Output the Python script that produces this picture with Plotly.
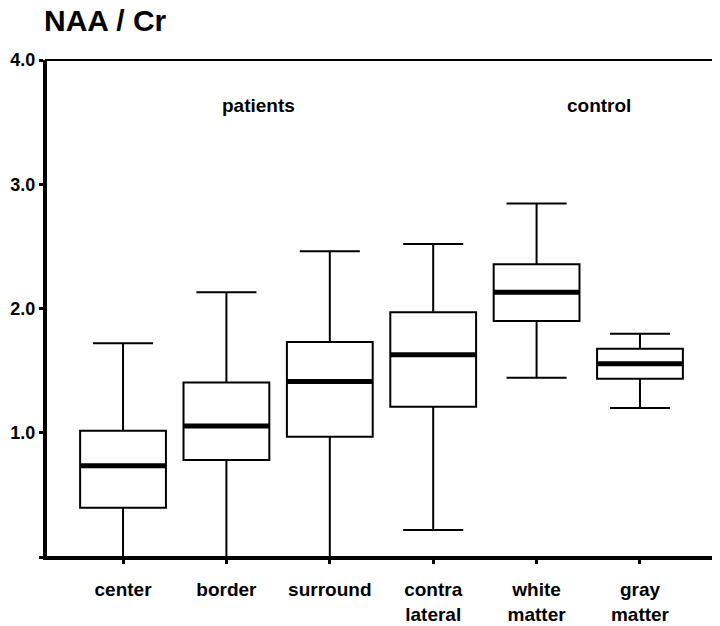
import plotly.graph_objects as go

categories = ["center", "border", "surround", "contra<br>lateral", "white<br>matter", "gray<br>matter"]
lower = [0.0, 0.0, 0.0, 0.217, 1.443, 1.20]
q1 = [0.397, 0.78, 0.968, 1.21, 1.90, 1.435]
median = [0.735, 1.054, 1.413, 1.627, 2.13, 1.555]
q3 = [1.016, 1.405, 1.73, 1.97, 2.357, 1.676]
upper = [1.72, 2.13, 2.46, 2.52, 2.845, 1.797]

y_tickvals = [0, 1, 2, 3, 4]
y_ticktext = ["", "1.0", "2.0", "3.0", "4.0"]

group_labels = ["patients", "control"]
group_x = [1.315, 4.60]
group_y = [3.63, 3.63]

FONT = "Liberation Sans, Arial, sans-serif"
xpos = list(range(len(categories)))

fig = go.Figure()
fig.add_trace(go.Box(
    x=xpos, q1=q1, median=median, q3=q3,
    lowerfence=lower, upperfence=upper,
    width=0.83, whiskerwidth=0.7,
    fillcolor="white", line=dict(color="black", width=2),
    boxpoints=False, showlegend=False, hoverinfo="skip",
))
fig.add_trace(go.Scatter(
    x=xpos, y=median, mode="markers",
    marker=dict(symbol="line-ew", size=61, color="black",
                line=dict(color="black", width=5)),
    showlegend=False, hoverinfo="skip",
))

for lab, gx, gy in zip(group_labels, group_x, group_y):
    fig.add_annotation(x=gx, y=gy, text="<b>%s</b>" % lab, showarrow=False,
                       font=dict(family=FONT, size=19, color="black"))

fig.add_annotation(xref="paper", yref="paper", x=0.0, y=1.0, yshift=21, xshift=-4,
                   xanchor="left", yanchor="bottom", showarrow=False,
                   text="<b>NAA / Cr</b>",
                   font=dict(family=FONT, size=30, color="black"))

fig.add_shape(type="rect", xref="paper", yref="paper", x0=0, x1=1, y0=0, y1=1,
              line=dict(color="black", width=2), layer="above")

fig.update_layout(
    width=712, height=618,
    margin=dict(l=38, r=6, t=52, b=69, autoexpand=False),
    paper_bgcolor="white", plot_bgcolor="white",
    font=dict(family=FONT, size=19, color="black"),
    xaxis=dict(
        range=[-0.745, 5.716], tickmode="array", tickvals=xpos,
        ticktext=["<b>%s</b>" % c for c in categories],
        showgrid=False, zeroline=False, showline=True, linecolor="black", linewidth=3,
        ticks="outside", ticklen=4, tickwidth=3, tickcolor="black",
        ticklabelstandoff=9, automargin=False,
        tickfont=dict(family=FONT, size=19, color="black"),
    ),
    yaxis=dict(
        range=[0, 4], tickmode="array", tickvals=y_tickvals,
        ticktext=["<b>%s</b>" % t if t else "" for t in y_ticktext],
        showgrid=False, zeroline=False, showline=True, linecolor="black", linewidth=3,
        ticks="outside", ticklen=4, tickwidth=3, tickcolor="black",
        ticklabelstandoff=0, automargin=False,
        tickfont=dict(family=FONT, size=18, color="black"),
    ),
)

fig.write_html("out.html")
